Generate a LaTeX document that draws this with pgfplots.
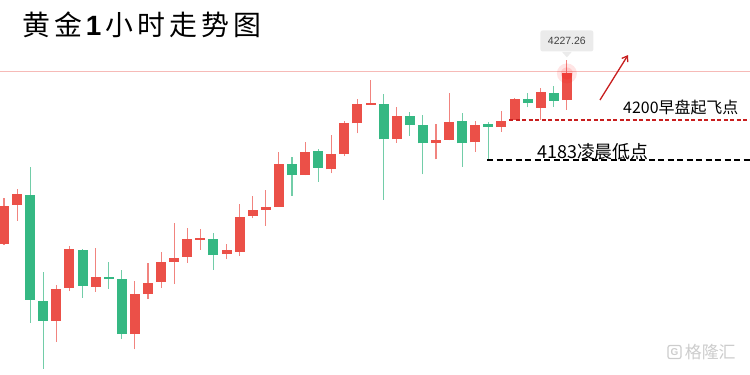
\documentclass[border=0pt]{standalone}
\usepackage{pgfplots}
\pgfplotsset{compat=1.18}
\usepackage{pgfplotstable}
\usepackage{fontspec}
\setmainfont{Liberation Sans}
\newfontfamily\cjk{Noto Sans CJK SC}
\usetikzlibrary{arrows.meta}
\definecolor{upred}{HTML}{EB5048}
\definecolor{dngreen}{HTML}{35B883}
\definecolor{annred}{HTML}{C81E1E}
\definecolor{hline}{HTML}{F29C98}

% x = candle index, o h l c = open high low close
\pgfplotstableread{
x o h l c
1 4147.3 4166.9 4146.9 4163.6
2 4163.9 4170.7 4157.2 4168.4
5 4114.6 4129.9 4105.6 4128.3
6 4128.6 4146.5 4127.3 4145.2
8 4129.2 4145.7 4127.0 4133.3
11 4109.0 4131.6 4102.5 4125.9
12 4126.0 4139.1 4123.8 4130.7
13 4131.3 4144.0 4128.5 4139.5
14 4139.7 4156.4 4130.2 4141.5
15 4141.8 4154.2 4139.4 4149.4
16 4149.1 4153.7 4144.8 4149.7
18 4143.0 4147.3 4140.8 4144.6
19 4144.0 4164.3 4142.2 4158.8
20 4159.2 4167.7 4158.2 4161.9
21 4161.8 4170.3 4155.1 4163.0
22 4163.2 4186.5 4163.0 4181.3
24 4176.6 4190.7 4176.4 4186.5
26 4179.0 4193.5 4177.3 4185.4
27 4185.7 4199.7 4184.6 4198.7
28 4198.6 4208.9 4194.3 4206.7
29 4206.5 4217.0 4206.5 4207.1
31 4191.8 4205.5 4190.4 4201.8
34 4190.2 4198.3 4183.3 4191.4
35 4191.5 4211.5 4191.3 4199.3
37 4190.5 4199.7 4186.5 4198.0
39 4197.0 4203.8 4195.0 4199.7
40 4199.9 4209.5 4199.9 4209.1
42 4205.2 4213.5 4200.1 4211.8
44 4208.4 4225.5 4204.3 4219.8
}\redtab

\pgfplotstableread{
x o h l c
3 4168.1 4180.0 4113.9 4123.5
4 4123.1 4135.5 4094.2 4114.6
7 4144.9 4145.3 4124.5 4129.6
9 4133.1 4139.8 4128.2 4132.3
10 4132.3 4136.3 4106.8 4109.0
17 4149.3 4151.8 4136.3 4142.6
23 4181.2 4184.4 4167.8 4176.8
25 4186.8 4187.5 4173.8 4179.7
30 4206.9 4211.1 4166.0 4191.8
32 4201.8 4203.5 4193.3 4197.8
33 4198.0 4202.1 4176.9 4190.1
36 4199.6 4202.8 4180.2 4190.1
38 4198.3 4199.2 4183.0 4197.0
41 4208.8 4211.6 4205.4 4207.2
43 4211.5 4214.6 4205.7 4208.2
}\greentab

\begin{document}
\begin{tikzpicture}
\begin{axis}[
  width=750bp, height=375bp, scale only axis, hide axis,
  xmin=0.694, xmax=57.99, ymin=4091.6, ymax=4251,
]
\coordinate (bl) at (rel axis cs:0,0);
\coordinate (tr) at (rel axis cs:1,1);

% current price line
\addplot[hline, opacity=0.7, line width=1bp, forget plot] coordinates {(0.694,4220.4) (57.99,4220.4)};

% wicks
\addplot[draw=none, mark=none, forget plot,
  error bars/.cd, y dir=plus, y explicit, error mark=none,
  error bar style={draw=upred!70, line width=1.1bp}]
  table[x=x, y=l, y error plus expr=\thisrow{h}-\thisrow{l}] {\redtab};
\addplot[draw=none, mark=none, forget plot,
  error bars/.cd, y dir=plus, y explicit, error mark=none,
  error bar style={draw=dngreen!70, line width=1.1bp}]
  table[x=x, y=l, y error plus expr=\thisrow{h}-\thisrow{l}] {\greentab};

% bodies
\addplot[draw=none, mark=none, forget plot,
  error bars/.cd, y dir=plus, y explicit, error mark=none,
  error bar style={draw=upred, line width=10bp}]
  table[x=x, y=o, y error plus expr=\thisrow{c}-\thisrow{o}] {\redtab};
\addplot[draw=none, mark=none, forget plot,
  error bars/.cd, y dir=plus, y explicit, error mark=none,
  error bar style={draw=dngreen, line width=10bp}]
  table[x=x, y=c, y error plus expr=\thisrow{o}-\thisrow{c}] {\greentab};

% support lines
\addplot[annred, line width=1.4bp, dash pattern=on 4bp off 2.5bp, forget plot]
  coordinates {(39.58,4200.0) (57.99,4200.0)};
\addplot[black, line width=1.8bp, dash pattern=on 6bp off 3.5bp, forget plot]
  coordinates {(37.9,4183.0) (57.99,4183.0)};

% glow on last candle
\fill[red, opacity=0.10] (axis cs:44,4219.8) circle[radius=10bp];
\fill[red, opacity=0.12] (axis cs:44,4219.8) circle[radius=6bp];

% price label
\fill[black!8] ([xshift=-5bp]axis cs:44,4229.0) -- ([xshift=5bp]axis cs:44,4229.0) -- (axis cs:44,4226.6) -- cycle;
\node[fill=black!8, rounded corners=2bp, text=black!75, inner xsep=7.5bp, inner ysep=0pt,
  minimum height=21bp, font=\fontsize{10.5}{12}\selectfont] at (axis cs:44,4233.6) {4227.26};

% arrow
\draw[annred, line width=1.3bp, -{Straight Barb[length=5bp,width=7bp]}]
  (axis cs:46.53,4208.5) -- (axis cs:48.67,4227.6);

% annotations
\node[anchor=west, inner sep=0pt, font=\cjk\fontsize{16}{16}\selectfont]
  at (axis cs:48.29,4205.5) {4200早盘起飞点};
\node[anchor=west, inner sep=0pt, font=\cjk\fontsize{18}{18}\selectfont]
  at (axis cs:41.72,4186.6) {4183凌晨低点};

% title
\node[anchor=west, inner sep=0pt, font=\cjk\fontsize{28}{28}\selectfont]
  at (rel axis cs:0.0293,0.933)
  {黄\hspace{4bp}金\hspace{4bp}{\fontspec{Liberation Sans}\bfseries 1}\hspace{4bp}小\hspace{4bp}时\hspace{4bp}走\hspace{4bp}势\hspace{4bp}图};

% watermark
\node[draw=black!20, line width=1.2bp, rounded corners=2bp, text=black!20, minimum size=13bp,
  inner sep=0pt, font=\bfseries\fontsize{10}{10}\selectfont] at (rel axis cs:0.8993,0.0613) {G};
\node[text=black!20, font=\cjk\fontsize{17}{17}\selectfont] at (rel axis cs:0.947,0.0613) {格隆汇};
\end{axis}
\pgfresetboundingbox
\path (bl) rectangle (tr);
\end{tikzpicture}
\end{document}
